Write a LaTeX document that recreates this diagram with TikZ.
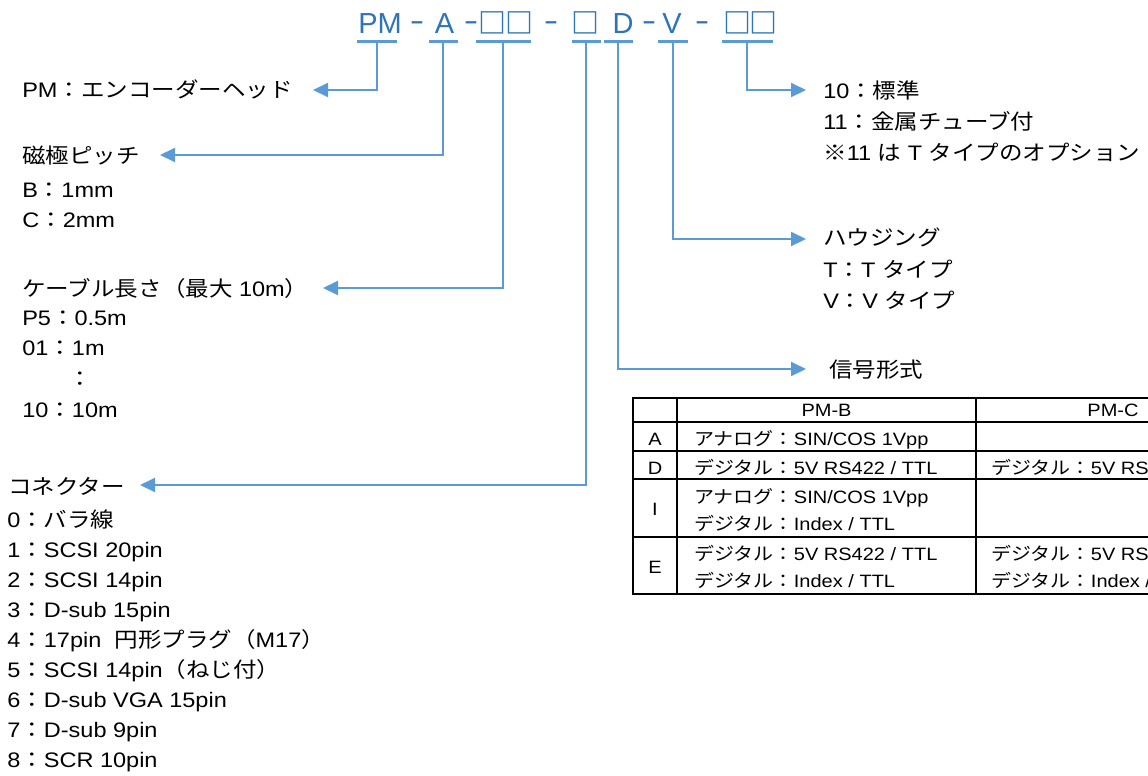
\documentclass[tikz,border=0pt]{standalone}
\usepackage{fontspec}
\setmainfont{Liberation Sans}[FakeStretch=1.12]
\newfontfamily\jp{Noto Sans CJK JP}[FakeStretch=1.12]
\newfontfamily\hdfont{Liberation Sans}
\newfontfamily\hdjp{Noto Sans CJK JP}
\usetikzlibrary{arrows.meta}
\definecolor{hblue}{RGB}{46,117,182}
\definecolor{lblue}{RGB}{91,155,213}
\newcommand\J[1]{{\jp #1}}
\newcommand\hdash{\scalebox{1.5}[1]{-}}
\begin{document}
\begin{tikzpicture}[x=0.75pt,y=-0.75pt,
  lbl/.style={anchor=base west, inner sep=0pt, font=\fontsize{15.75pt}{18pt}\selectfont},
  tlbl/.style={anchor=base west, inner sep=0pt, font=\fontsize{13.4pt}{16pt}\selectfont},
  tctr/.style={anchor=base, inner sep=0pt, font=\fontsize{13.4pt}{16pt}\selectfont},
  hd/.style={anchor=base, inner sep=0pt, text=hblue, font=\hdfont\fontsize{21.75pt}{24pt}\selectfont},
  hdbox/.style={anchor=base, inner sep=0pt, text=hblue, font=\hdjp\bfseries\fontsize{21pt}{24pt}\selectfont},
  bar/.style={fill=lblue, inner sep=0pt, minimum height=2.25pt},
  conn/.style={draw=lblue, line width=1.5pt, -{Triangle[length=11.25pt,width=10.5pt]}},
  tbl/.style={line width=1.4pt}
]
\useasboundingbox (0,0) rectangle (1148,775);
\clip (0,0) rectangle (1148,775);
% header
\node[hd] (hPM) at (380,33) {PM};
\node[hd] (hd1) at (417,30) {\hdash};
\node[hd] (hA) at (444.5,33) {A};
\node[hd] (hd2) at (471,30) {\hdash};
\node[hdbox] (hC1) at (492,33) {□};
\node[hdbox] (hC2) at (519,33) {□};
\node[hd] (hd3) at (551,30) {\hdash};
\node[hdbox] (hN) at (585,33) {□};
\node[hd] (hD) at (623,33) {D};
\node[hd] (hd4) at (649,30) {\hdash};
\node[hd] (hV) at (672,33) {V};
\node[hd] (hd5) at (702,30) {\hdash};
\node[hdbox] (hO1) at (737,33) {□};
\node[hdbox] (hO2) at (763,33) {□};
% bars
\node[bar, minimum width=30pt] (bPM) at (377,41) {};
\node[bar, minimum width=21.75pt] (bA) at (443,41) {};
\node[bar, minimum width=41.25pt] (bCL) at (503,41) {};
\node[bar, minimum width=21.75pt] (bCN) at (586,41) {};
\node[bar, minimum width=21.75pt] (bSG) at (618,41) {};
\node[bar, minimum width=22.5pt] (bHS) at (673,41) {};
\node[bar, minimum width=38.25pt] (bOP) at (747,41) {};
% arrow tips
\coordinate (tPM) at (313,90);
\coordinate (tMP) at (160,155);
\coordinate (tCL) at (323,288);
\coordinate (tCN) at (140,485);
\coordinate (tOP) at (806,90);
\coordinate (tHS) at (806,239);
\coordinate (tSG) at (806,369);
\draw[conn] (bPM.center) |- (tPM);
\draw[conn] (bA.center) |- (tMP);
\draw[conn] (bCL.center) |- (tCL);
\draw[conn] (bCN.center) |- (tCN);
\draw[conn] (bSG.center) |- (tSG);
\draw[conn] (bHS.center) |- (tHS);
\draw[conn] (bOP.center) |- (tOP);
% left texts
\node[lbl] (pm) at (22,97) {PM\J{：エンコーダーヘッド}};
\node[lbl] (mp) at (22,163) {\J{磁極ピッチ}};
\node[lbl] (mpB) at (22,197) {B\J{：}1mm};
\node[lbl] (mpC) at (22,227) {C\J{：}2mm};
\node[lbl] (cl) at (22,296) {\J{ケーブル長さ（最大} 10m\J{）}};
\node[lbl] (cl1) at (22,325) {P5\J{：}0.5m};
\node[lbl] (cl2) at (22,355) {01\J{：}1m};
\node[lbl, anchor=base] (cl3) at (80,386) {\J{：}};
\node[lbl] (cl4) at (22,417) {10\J{：}10m};
\node[lbl] (cn) at (8,494) {\J{コネクター}};
\node[lbl] (cn0) at (7,527) {0\J{：バラ線}};
\node[lbl] (cn1) at (7,557) {1\J{：}SCSI 20pin};
\node[lbl] (cn2) at (7,587) {2\J{：}SCSI 14pin};
\node[lbl] (cn3) at (7,617) {3\J{：}D-sub 15pin};
\node[lbl] (cn4) at (7,647) {4\J{：}17pin\ \ \J{円形プラグ（}M17\J{）}};
\node[lbl] (cn5) at (7,677) {5\J{：}SCSI 14pin\J{（ねじ付）}};
\node[lbl] (cn6) at (7,707) {6\J{：}D-sub VGA 15pin};
\node[lbl] (cn7) at (7,737) {7\J{：}D-sub 9pin};
\node[lbl] (cn8) at (7,767) {8\J{：}SCR 10pin};
% right texts
\node[lbl] (op1) at (823,98) {10\J{：標準}};
\node[lbl] (op2) at (823,129) {11\J{：金属チューブ付}};
\node[lbl] (op3) at (823,160) {\J{※}11 \J{は} T \J{タイプのオプション}};
\node[lbl] (hs) at (823,245) {\J{ハウジング}};
\node[lbl] (hs1) at (823,277) {T\J{：}T \J{タイプ}};
\node[lbl] (hs2) at (823,308) {V\J{：}V \J{タイプ}};
\node[lbl] (sg) at (829,377) {\J{信号形式}};
% table
\draw[tbl] (633,398) rectangle (1250,594);
\draw[tbl] (677,398) -- (677,594);
\draw[tbl] (976,398) -- (976,594);
\draw[tbl] (633,422) -- (1250,422);
\draw[tbl] (633,451) -- (1250,451);
\draw[tbl] (633,479) -- (1250,479);
\draw[tbl] (633,537) -- (1250,537);
\node[tctr] (thB) at (826.5,416) {PM-B};
\node[tctr] (thC) at (1113,416) {PM-C};
\node[tctr] (rA) at (655,445) {A};
\node[tctr] (rD) at (655,474) {D};
\node[tctr] (rI) at (655,515) {I};
\node[tctr] (rE) at (655,573) {E};
\node[tlbl] (aB) at (694,445) {\J{アナログ：}SIN/COS 1Vpp};
\node[tlbl] (dB) at (694,474) {\J{デジタル：}5V RS422 / TTL};
\node[tlbl] (dC) at (991,474) {\J{デジタル：}5V RS422 / TTL};
\node[tlbl] (iB1) at (694,503) {\J{アナログ：}SIN/COS 1Vpp};
\node[tlbl] (iB2) at (694,530) {\J{デジタル：}Index / TTL};
\node[tlbl] (eB1) at (694,560) {\J{デジタル：}5V RS422 / TTL};
\node[tlbl] (eB2) at (694,587) {\J{デジタル：}Index / TTL};
\node[tlbl] (eC1) at (991,560) {\J{デジタル：}5V RS422 / TTL};
\node[tlbl] (eC2) at (991,587) {\J{デジタル：}Index / TTL};
\end{tikzpicture}
\end{document}
